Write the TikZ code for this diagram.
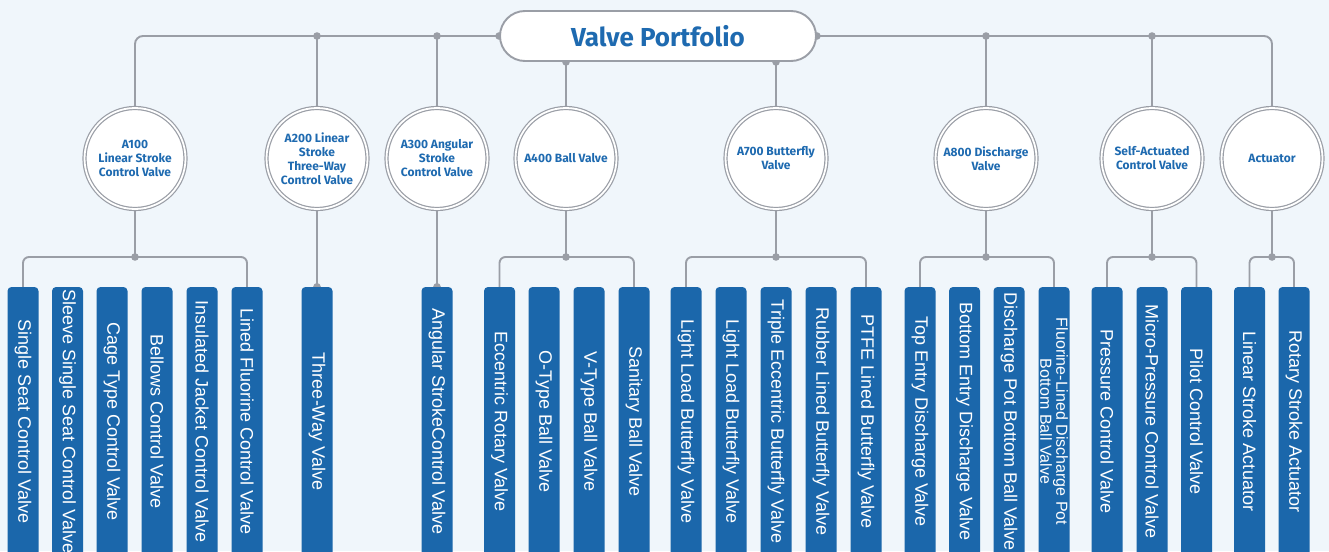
\documentclass[tikz,border=0pt]{standalone}
\usepackage{fontspec}
\setmainfont{Liberation Sans}
\newfontfamily\headfont{Fira Sans}
\usetikzlibrary{calc}
\definecolor{valveblue}{HTML}{1B67AB}
\definecolor{labelblue}{HTML}{1E6AB0}
\definecolor{linegray}{HTML}{9A9EA6}
\definecolor{bgblue}{HTML}{F0F6FB}
\pgfdeclarelayer{bg}
\pgfdeclarelayer{links}
\pgfsetlayers{bg,links,main}
\newcommand{\joint}[1]{\fill[linegray] (#1) circle (3.8pt);}

\begin{document}
\begin{tikzpicture}[x=1pt,y=-1pt,
    link/.style={draw=linegray,line width=1.9pt},
    hub/.style={circle,draw=linegray,fill=white,line width=1.2pt,double=white,double distance=1.8pt,
        minimum size=101pt,inner sep=0pt,align=center,text=labelblue,
        font=\headfont\bfseries\fontsize{12}{14}\selectfont},
    bar/.style={rotate=-90,fill=valveblue,rounded corners=4pt,minimum width=269pt,minimum height=31pt,
        inner sep=0pt,align=center,text=white,font=\fontsize{18}{20}\selectfont},
    ]
\useasboundingbox (0,0) rectangle (1329,551);
\begin{pgfonlayer}{bg}
    \fill[bgblue] (0,0) rectangle (1329,551);
\end{pgfonlayer}

\node[draw=linegray,line width=1.9pt,fill=white,rounded corners=25pt,minimum width=316pt,minimum height=50pt,
    text=labelblue,font=\headfont\bfseries\fontsize{26}{30}\selectfont] (root) at (658,36) {Valve Portfolio};

\node[hub] (a100) at (135,158.5) {A100\\Linear Stroke\\Control Valve};
\node[hub] (a200) at (317,158.5) {A200 Linear\\Stroke\\Three-Way\\Control Valve};
\node[hub] (a300) at (437,158.5) {A300 Angular\\Stroke\\Control Valve};
\node[hub] (a400) at (566,158.5) {A400 Ball Valve};
\node[hub] (a700) at (776,158.5) {A700 Butterfly\\Valve};
\node[hub] (a800) at (986,158.5) {A800 Discharge\\Valve};
\node[hub] (self) at (1152,158.5) {Self-Actuated\\Control Valve};
\node[hub] (act) at (1272,158.5) {Actuator};

\foreach \x/\n/\t in {23/v1/Single Seat Control Valve,67.5/v2/Sleeve Single Seat Control Valve,
    112/v3/Cage Type Control Valve,157/v4/Bellows Control Valve,202/v5/Insulated Jacket Control Valve,
    247/v6/Lined Fluorine Control Valve,317/v7/Three-Way Valve,437/v8/Angular StrokeControl Valve,
    499.5/v9/Eccentric Rotary Valve,544/v10/O-Type Ball Valve,589/v11/V-Type Ball Valve,
    634/v12/Sanitary Ball Valve,686/v13/Light Load Butterfly Valve,731/v14/Light Load Butterfly Valve,
    776/v15/Triple Eccentric Butterfly Valve,821/v16/Rubber Lined Butterfly Valve,
    866/v17/PTFE Lined Butterfly Valve,920/v18/Top Entry Discharge Valve,
    964.5/v19/Bottom Entry Discharge Valve,1009/v20/Discharge Pot Bottom Ball Valve,
    1107/v22/Pressure Control Valve,1152/v23/Micro-Pressure Control Valve,1196.5/v24/Pilot Control Valve,
    1249.5/v25/Linear Stroke Actuator,1294/v26/Rotary Stroke Actuator}
    \node[bar] (\n) at (\x,421.5) {\t};
\node[bar,font=\fontsize{16}{14}\selectfont] (v21) at (1054,421.5) {Fluorine-Lined Discharge Pot\\Bottom Ball Valve};

\begin{pgfonlayer}{links}
    % trunk
    \draw[link,rounded corners=8pt] (a100.north) |- (root.west);
    \draw[link,rounded corners=8pt] (root.east) -| (act.north);
    \foreach \n in {a200,a300,a800,self} {
        \draw[link] (\n.north) -- (\n |- root.west);
        \joint{\n |- root.west}
    }
    \foreach \n in {a400,a700} {
        \draw[link] (\n.north) -- (\n |- root.south);
        \joint{\n |- root.south}
    }
    \joint{root.west}
    \joint{root.east}
    % branches
    \foreach \p/\a/\b in {a100/v1/v6,a400/v9/v12,a700/v13/v17,a800/v18/v21,self/v22/v24,act/v25/v26} {
        \draw[link] (\p.south) -- (\p |- 0,257);
        \draw[link,rounded corners=6pt] (\a.west) |- (\p |- 0,257) -| (\b.west);
        \joint{\p |- 0,257}
    }
    \draw[link] (a200.south) -- (v7.west);
    \draw[link] (a300.south) -- (v8.west);
    \joint{v7.west}
    \joint{v8.west}
\end{pgfonlayer}
\end{tikzpicture}
\end{document}
